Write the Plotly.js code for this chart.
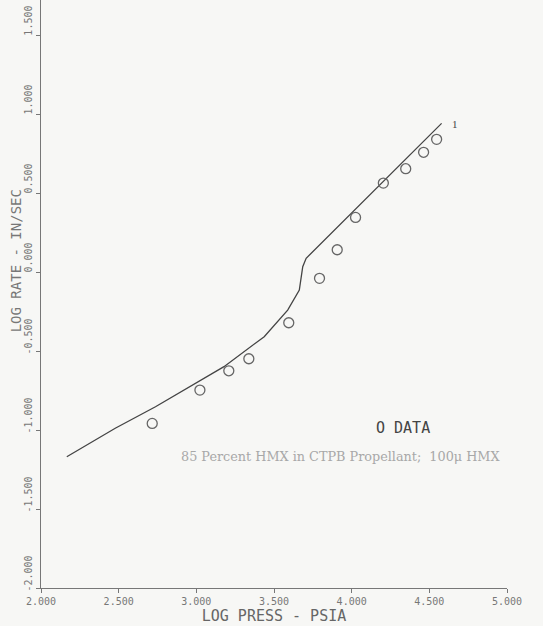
<!DOCTYPE html>
<html>
<head>
<meta charset="utf-8">
<script src="https://cdn.plot.ly/plotly-3.0.1.min.js"></script>
<style>
  html, body { margin: 0; padding: 0; background: #f7f7f5; }
  #chart { width: 543px; height: 626px; }
</style>
</head>
<body>
<div id="chart"></div>
<script>
// Model curve "1": log pressure (psia) vs log burning rate (in/sec)
const curveLogP = [2.166, 2.478, 2.737, 2.899, 3.178, 3.437, 3.588, 3.663, 3.685, 3.707, 3.804, 4.579];
const curveLogRate = [-1.169, -0.989, -0.853, -0.758, -0.599, -0.409, -0.241, -0.114, 0.034, 0.087, 0.182, 0.941];

// Measured data points
const dataLogP = [2.716, 3.023, 3.209, 3.338, 3.595, 3.793, 3.907, 4.025, 4.204, 4.348, 4.463, 4.547];
const dataLogRate = [-0.958, -0.747, -0.625, -0.549, -0.321, -0.040, 0.141, 0.346, 0.563, 0.654, 0.758, 0.840];

// Tick labels
const xTickVals = [2.0, 2.5, 3.0, 3.5, 4.0, 4.5, 5.0];
const xTickText = ["2.000", "2.500", "3.000", "3.500", "4.000", "4.500", "5.000"];
const yTickVals = [-2.0, -1.5, -1.0, -0.5, 0.0, 0.5, 1.0, 1.5];
const yTickText = ["-2.000", "-1.500", "-1.000", "-0.500", "0.000", "0.500", "1.000", "1.500"];

const curveLabel = "1";
const legendText = "O DATA";
const captionText = "85 Percent HMX in CTPB Propellant;  100\u03bc HMX";

const plotFont = "DejaVu Sans Mono, monospace";

const traces = [
  {
    x: curveLogP, y: curveLogRate, mode: "lines", type: "scatter",
    line: { color: "#444", width: 1.3 }, showlegend: false, hoverinfo: "skip"
  },
  {
    x: dataLogP, y: dataLogRate, mode: "markers", type: "scatter",
    marker: { symbol: "circle-open", size: 10, color: "#666", line: { width: 1.3, color: "#666" } },
    showlegend: false, name: "DATA"
  }
];

const layout = {
  width: 543, height: 626,
  margin: { l: 41, r: 36, t: 0, b: 38 },
  paper_bgcolor: "#f7f7f5", plot_bgcolor: "#f7f7f5",
  showlegend: false,
  xaxis: {
    range: [2.0, 5.0], tickvals: xTickVals, ticktext: xTickText,
    showgrid: false, zeroline: false, showline: true, linecolor: "#777", linewidth: 1,
    ticks: "outside", ticklen: 4, tickcolor: "#777",
    tickfont: { family: plotFont, size: 10, color: "#777" },
    title: { text: "LOG PRESS - PSIA", font: { family: plotFont, size: 15, color: "#666" }, standoff: 2 }
  },
  yaxis: {
    range: [-2.0, 1.722], tickvals: yTickVals, ticktext: yTickText,
    showgrid: false, zeroline: false, showline: true, linecolor: "#777", linewidth: 1,
    ticks: "outside", ticklen: 4, tickcolor: "#777", tickangle: -90,
    ticklabelshift: -13,
    tickfont: { family: plotFont, size: 10, color: "#777" }
  },
  annotations: [
    {
      xref: "paper", yref: "paper", x: -0.053, y: 0.556, xanchor: "center", yanchor: "middle",
      text: "LOG RATE - IN/SEC", textangle: -90, showarrow: false,
      font: { family: plotFont, size: 14, color: "#777" }
    },
    {
      x: curveLogP[curveLogP.length - 1], y: curveLogRate[curveLogRate.length - 1],
      xshift: 13, yshift: -1, text: curveLabel, showarrow: false,
      font: { family: "Liberation Serif, serif", size: 11, color: "#444" }
    },
    {
      x: 4.331, y: -0.987, xanchor: "center", yanchor: "middle",
      text: legendText, showarrow: false,
      font: { family: plotFont, size: 15, color: "#444" }
    },
    {
      x: 3.925, y: -1.165, xanchor: "center", yanchor: "middle",
      text: captionText, showarrow: false,
      font: { family: "DejaVu Serif, serif", size: 12.8, color: "#a8a8a8" }
    }
  ]
};

Plotly.newPlot("chart", traces, layout, { staticPlot: true, displayModeBar: false });
</script>
</body>
</html>
